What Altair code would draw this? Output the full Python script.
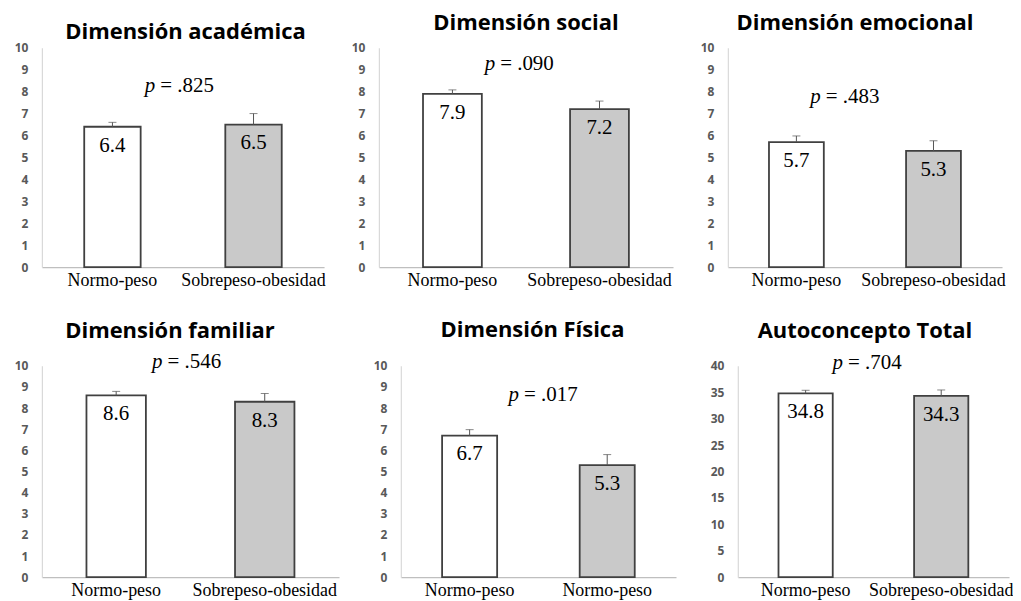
import altair as alt
import pandas as pd

# ---- data ----
titles = ["Dimensión académica", "Dimensión social", "Dimensión emocional",
          "Dimensión familiar", "Dimensión Física", "Autoconcepto Total"]
cat_labels = [
    ["Normo-peso", "Sobrepeso-obesidad"],
    ["Normo-peso", "Sobrepeso-obesidad"],
    ["Normo-peso", "Sobrepeso-obesidad"],
    ["Normo-peso", "Sobrepeso-obesidad"],
    ["Normo-peso", "Normo-peso"],
    ["Normo-peso", "Sobrepeso-obesidad"],
]
means = [[6.4, 6.5], [7.9, 7.2], [5.7, 5.3], [8.6, 8.3], [6.7, 5.3], [34.8, 34.3]]
errors = [[0.2, 0.5], [0.18, 0.37], [0.28, 0.46], [0.19, 0.39], [0.28, 0.5], [0.57, 1.13]]
p_values = [".825", ".090", ".483", ".546", ".017", ".704"]
p_y = [8.0, 9.0, 7.5, 9.9, 8.35, 39.4]
y_max = [10, 10, 10, 10, 10, 40]
y_step = [1, 1, 1, 1, 1, 5]
groups = ["A", "B"]

# ---- layout (styles / sizes) ----
widths = [283, 295, 275, 298, 276, 272]
heights = [220, 220, 220, 212, 212, 212]
title_offset = [-19.5, -10.5, -10.5, -9, 0.5, -8]
title_dx = [2.5, 0, -10, -20.5, -6, -8.5]
p_frac = [0.49, 0.48, 0.43, 0.49, 0.52, 0.48]

SERIF = "Liberation Serif"
SANS = "Open Sans"
DARK = "#404040"


def panel(i):
    df = pd.DataFrame({
        "grp": groups,
        "label": cat_labels[i],
        "mean": means[i],
        "top": [m + e for m, e in zip(means[i], errors[i])],
    })
    pdf = pd.DataFrame({"py": [p_y[i]], "ptxt": ["= " + p_values[i]]})
    w, h = widths[i], heights[i]
    lab_expr = "datum.value == 'A' ? '%s' : '%s'" % (cat_labels[i][0], cat_labels[i][1])

    xaxis = alt.Axis(title=None, labelExpr=lab_expr, labelAngle=0,
                     labelFont=SERIF, labelFontSize=18, labelColor="black",
                     labelPadding=4, ticks=False, domainColor="#bfbfbf",
                     domainWidth=1.2)
    x = alt.X("grp:N", sort=groups,
              scale=alt.Scale(paddingInner=0.6, paddingOuter=0.3), axis=xaxis)
    yscale = alt.Scale(domain=[0, y_max[i]], nice=False)
    yaxis = alt.Axis(title=None, grid=False, ticks=False,
                     values=list(range(0, y_max[i] + 1, y_step[i])),
                     labelOverlap=False, labelFlush=False,
                     labelFont=SANS, labelFontWeight="bold", labelFontSize=12,
                     labelColor="#595959", labelPadding=14,
                     domainColor="#d9d9d9", domainWidth=1.2)

    def Y(field):
        return alt.Y(field, type="quantitative", scale=yscale, axis=yaxis)

    def X():
        return alt.X("grp:N", sort=groups,
                     scale=alt.Scale(paddingInner=0.6, paddingOuter=0.3), axis=xaxis)

    bars = alt.Chart(df).mark_bar(stroke=DARK, strokeWidth=1.8).encode(
        x=X(), y=Y("mean"),
        fill=alt.Fill("grp:N", scale=alt.Scale(domain=groups, range=["#ffffff", "#c9c9c9"]),
                      legend=None),
    )
    err = alt.Chart(df).mark_rule(color="#555555", strokeWidth=1).encode(
        x=X(), y=Y("mean"), y2="top:Q")
    cap = alt.Chart(df).mark_tick(orient="horizontal", size=8, thickness=1,
                                  color="#555555").encode(x=X(), y=Y("top"))
    vals = alt.Chart(df).mark_text(baseline="top", dy=8, font=SERIF, fontSize=21,
                                   color="black").encode(
        x=X(), y=Y("mean"), text=alt.Text("mean:Q", format=".1f"))
    cx = w * p_frac[i]
    p_it = alt.Chart(pdf).mark_text(text="p", align="right", baseline="alphabetic",
                                    dx=-25, font=SERIF, fontSize=21, fontStyle="italic",
                                    color="black").encode(
        x=alt.value(cx), y=Y("py"))
    p_rest = alt.Chart(pdf).mark_text(align="left", baseline="alphabetic", dx=-20,
                                      font=SERIF, fontSize=21, color="black").encode(
        x=alt.value(cx), y=Y("py"), text="ptxt:N")

    return alt.layer(bars, err, cap, vals, p_it, p_rest).properties(
        width=w, height=h,
        title=alt.TitleParams(titles[i], font=SANS, fontSize=22, fontWeight="bold",
                              color="black", anchor="middle", baseline="alphabetic",
                              offset=title_offset[i], dx=title_dx[i]),
    )


row1 = alt.hconcat(panel(0), panel(1), panel(2), spacing=55, bounds="flush")
row2 = alt.hconcat(panel(3), panel(4), panel(5), spacing=62, bounds="flush")
chart = alt.vconcat(row1, row2, spacing=30).properties(
    padding={"left": 6, "top": 3, "right": 0, "bottom": 0}
).configure_view(stroke=None)

chart.save("out.html", embed_options={"renderer": "svg", "actions": False})
